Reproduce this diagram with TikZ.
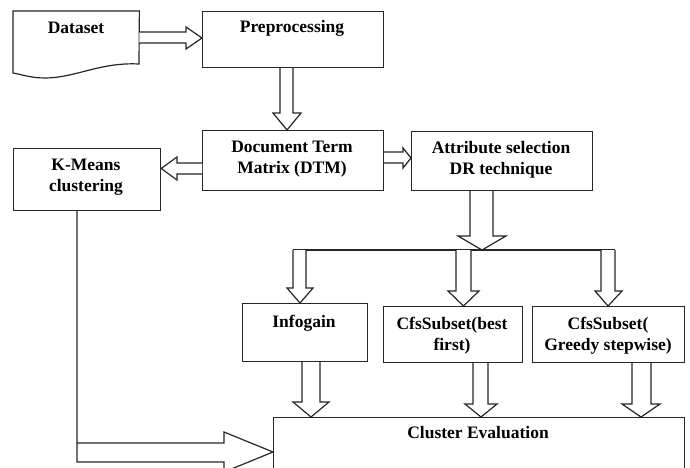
\documentclass[tikz,border=0pt]{standalone}
\usepackage{fontspec}
\setmainfont{Liberation Serif}
\begin{document}
\begin{tikzpicture}[x=1pt,y=-1pt,
  box/.style={draw=black!85, line width=1.2pt, inner sep=0pt, anchor=north west},
  frame/.style={inner sep=0pt, anchor=north west},
  txt/.style={anchor=base, inner sep=0pt, font=\fontsize{17.5}{21.5}\selectfont\bfseries},
  blk/.style={draw=black!85, line width=1.2pt, fill=white, line join=miter}]
\useasboundingbox (0,0) rectangle (690,468);
\clip (0,0) rectangle (690,468);

% boxes
\node[frame, minimum width=126pt, minimum height=53pt] (dataset) at (13,11) {};
\draw[blk] (dataset.north west) -- (dataset.north east) -- (139,64)
  .. controls (100,62) and (75,78) .. (45,78)
  .. controls (30,78) and (20,74) .. (13,73) -- cycle;
\node[box, minimum width=181pt, minimum height=56pt] (prep) at (202,11) {};
\node[box, minimum width=181pt, minimum height=60pt] (dtm) at (202,130) {};
\node[box, minimum width=147pt, minimum height=62pt] (km) at (13,148) {};
\node[box, minimum width=181pt, minimum height=59pt] (attr) at (411,131) {};
\node[box, minimum width=125pt, minimum height=58pt] (info) at (242,303) {};
\node[box, minimum width=139pt, minimum height=56pt] (cfsa) at (383,306) {};
\node[box, minimum width=152pt, minimum height=56pt] (cfsb) at (532,306) {};
\node[box, minimum width=411pt, minimum height=80pt] (clu) at (273,417) {};

% texts
\node[txt] (datasetT) at (76,34) {Dataset};
\node[txt] (prepT) at (292,33) {Preprocessing};
\node[txt] (dtmT) at (292,152) {\begin{tabular}[t]{@{}c@{}}Document Term\\Matrix (DTM)\end{tabular}};
\node[txt] (kmT) at (86,170) {\begin{tabular}[t]{@{}c@{}}K-Means\\clustering\end{tabular}};
\node[txt] (attrT) at (501,153) {\begin{tabular}[t]{@{}c@{}}Attribute selection\\DR technique\end{tabular}};
\node[txt] (infoT) at (304,327) {Infogain};
\node[txt] (cfsaT) at (452,329) {\begin{tabular}[t]{@{}c@{}}CfsSubset(best\\first)\end{tabular}};
\node[txt] (cfsbT) at (608,329) {\begin{tabular}[t]{@{}c@{}}CfsSubset(\\Greedy stepwise)\end{tabular}};
\node[txt] (cluT) at (478,438) {Cluster Evaluation};

% block arrows
% Dataset -> Preprocessing
\draw[blk] (dataset.east |- 0,32) -- (186,32) -- (186,27) -- (prep.west |- 0,38)
  -- (186,49) -- (186,43) -- (dataset.east |- 0,43);
% Preprocessing -> DTM
\draw[blk] (280,0 |- prep.south) -- (280,113) -- (273,113) -- (287,0 |- dtm.north)
  -- (301,113) -- (293,113) -- (293,0 |- prep.south);
% DTM -> K-Means
\draw[blk] (dtm.west |- 0,163) -- (177,163) -- (177,157) -- (km.east |- 0,168.5)
  -- (177,180) -- (177,174) -- (dtm.west |- 0,174);
% DTM -> Attribute selection
\draw[blk] (dtm.east |- 0,152) -- (403,152) -- (403,148) -- (attr.west |- 0,158)
  -- (403,168) -- (403,163) -- (dtm.east |- 0,163);
% Attribute selection -> branch
\coordinate (bus) at (482,250);
\draw[blk] (470,0 |- attr.south) -- (470,236) -- (458,236) -- (bus)
  -- (506,236) -- (493,236) -- (493,0 |- attr.south);
% branch with three arrows
\draw[blk] (293,250) -- (615,250);
\draw[blk] (293,250) -- (293,288) -- (287,288) -- (300,0 |- info.north)
  -- (313,288) -- (306,288) -- (306,250);
\draw[blk] (456,250) -- (456,291) -- (448,291) -- (463.5,0 |- cfsa.north)
  -- (479,291) -- (471,291) -- (471,250);
\draw[blk] (601,250) -- (601,291) -- (595,291) -- (608,0 |- cfsb.north)
  -- (622,291) -- (615,291) -- (615,250);
% boxes -> Cluster Evaluation
\draw[blk] (302,0 |- info.south) -- (302,402) -- (293,402) -- (311,0 |- clu.north)
  -- (329,402) -- (320,402) -- (320,0 |- info.south);
\draw[blk] (473,0 |- cfsa.south) -- (473,404) -- (465,404) -- (481,0 |- clu.north)
  -- (497,404) -- (488,404) -- (488,0 |- cfsa.south);
\draw[blk] (632,0 |- cfsb.south) -- (632,404) -- (622,404) -- (641,0 |- clu.north)
  -- (660,404) -- (651,404) -- (651,0 |- cfsb.south);
% K-Means -> Cluster Evaluation
\draw[blk, fill=none] (77,0 |- km.south) -- (77,462) -- (224,462) -- (224,472)
  -- (clu.west |- 0,452) -- (224,432) -- (224,443) -- (77,443);
\end{tikzpicture}
\end{document}
